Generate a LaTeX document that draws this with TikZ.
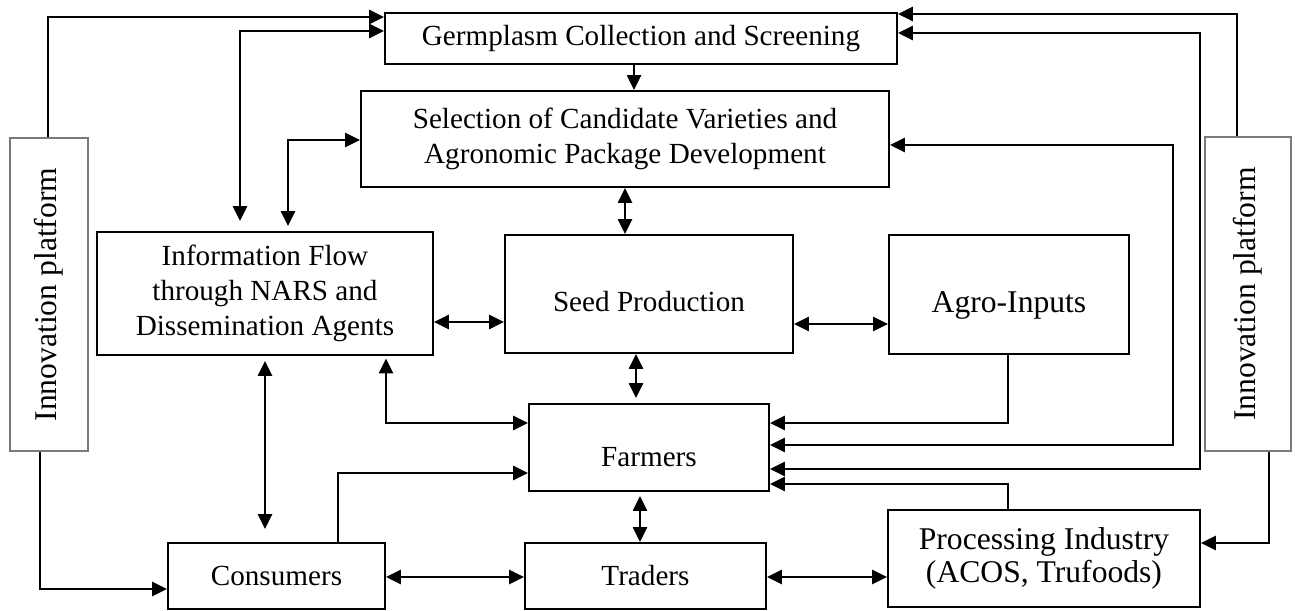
\documentclass[tikz,border=0pt]{standalone}
\usepackage{fontspec}
\setmainfont{Liberation Serif}
\usepackage{tikz}
\usetikzlibrary{arrows.meta}
\definecolor{FrameGray}{HTML}{7A7A7A}

\begin{document}
\begin{tikzpicture}[x=0.02cm, y=-0.02cm,
    every node/.style={font=\fontsize{16.6}{20}\selectfont},
    box/.style={draw, line width=1.1pt, align=center, inner sep=0pt},
    bigbox/.style={box, font=\fontsize{18}{19}\selectfont},
    sunk/.style={text height=#1, text depth=0.1cm},
    platform/.style={draw=FrameGray, line width=0.9pt, inner sep=0pt,
      font=\fontsize{18}{21}\selectfont},
    arr/.style={-{Triangle[length=8.5pt,width=8pt]}, line width=1.2pt},
    dbl/.style={{Triangle[length=8.5pt,width=8pt]}-{Triangle[length=8.5pt,width=8pt]},
      line width=1.2pt}]
  \useasboundingbox (0,0) rectangle (1295,611);

  % boxes
  \node[box, minimum width=10.24cm, minimum height=1.02cm] (germ) at (641,38.5)
    {Germplasm Collection and Screening};
  \node[box, minimum width=10.56cm, minimum height=1.92cm] (select) at (625,139)
    {Selection of Candidate Varieties and\\Agronomic Package Development};
  \node[box, minimum width=6.72cm, minimum height=2.46cm] (info) at (265,293.5)
    {Information Flow\\through NARS and\\Dissemination Agents};
  \node[box, sunk=0.8cm, minimum width=5.76cm, minimum height=2.36cm] (seed) at (649,294)
    {Seed Production};
  \node[bigbox, sunk=0.82cm, minimum width=4.8cm, minimum height=2.38cm] (agro) at (1009,294.5)
    {Agro-Inputs};
  \node[box, sunk=0.88cm, minimum width=4.8cm, minimum height=1.74cm] (farmers) at (649,447.5)
    {Farmers};
  \node[box, minimum width=4.34cm, minimum height=1.32cm] (consumers) at (276.5,576)
    {Consumers};
  \node[box, minimum width=4.82cm, minimum height=1.32cm] (traders) at (645.5,576)
    {Traders};
  \node[bigbox, minimum width=6.24cm, minimum height=1.94cm] (proc) at (1044,558.5)
    {Processing Industry\\(ACOS, Trufoods)};
  \node[platform, minimum width=1.56cm, minimum height=6.26cm] (innovL) at (49,294.5)
    {\rotatebox{90}{Innovation platform}};
  \node[platform, minimum width=1.72cm, minimum height=6.28cm] (innovR) at (1248,294)
    {\rotatebox{90}{Innovation platform}};

  % left platform
  \draw[arr] (innovL.north -| 48,0) |- (germ.west |- 0,17);
  \draw[arr] (innovL.south -| 40,0) |- (consumers.west |- 0,589);

  % information flow
  \draw[dbl, shorten <=0.2cm] (info.north -| 240,0) |- (germ.west |- 0,31);
  \draw[dbl, shorten <=0.1cm] (info.north -| 288,0) |- (select.west |- 0,140);
  \draw[dbl] (info.east |- 0,322) -- (seed.west |- 0,322);
  \draw[dbl, shorten <=0.05cm] (info.south -| 386,0) |- (farmers.west |- 0,423);
  \draw[dbl, shorten <=0.1cm, shorten >=0.26cm] (info.south -| 265,0) -- (consumers.north -| 265,0);

  % central column
  \draw[arr] (germ.south -| 634,0) -- (select.north -| 634,0);
  \draw[dbl] (select.south -| 625,0) -- (seed.north -| 625,0);
  \draw[dbl] (seed.east |- 0,324) -- (agro.west |- 0,324);
  \draw[dbl, shorten >=0.1cm] (seed.south -| 636,0) -- (farmers.north -| 636,0);
  \draw[dbl, shorten <=0.08cm] (farmers.south -| 640,0) -- (traders.north -| 640,0);
  \draw[dbl] (consumers.east |- 0,577) -- (traders.west |- 0,577);
  \draw[dbl] (traders.east |- 0,577) -- (proc.west |- 0,577);
  \draw[arr] (consumers.north -| 338,0) |- (farmers.west |- 0,473);

  % feedback into farmers
  \draw[arr] (agro.south -| 1008,0) |- (farmers.east |- 0,423);
  \draw[dbl] (select.east |- 0,145) -| (1173,445) -- (farmers.east |- 0,445);
  \draw[dbl] (germ.east |- 0,33) -| (1200,469) -- (farmers.east |- 0,469);
  \draw[arr] (proc.north -| 1008,0) |- (farmers.east |- 0,484);

  % right platform
  \draw[arr] (innovR.north -| 1237,0) |- (germ.east |- 0,14);
  \draw[arr] (innovR.south -| 1269,0) |- (proc.east |- 0,543);
\end{tikzpicture}
\end{document}
